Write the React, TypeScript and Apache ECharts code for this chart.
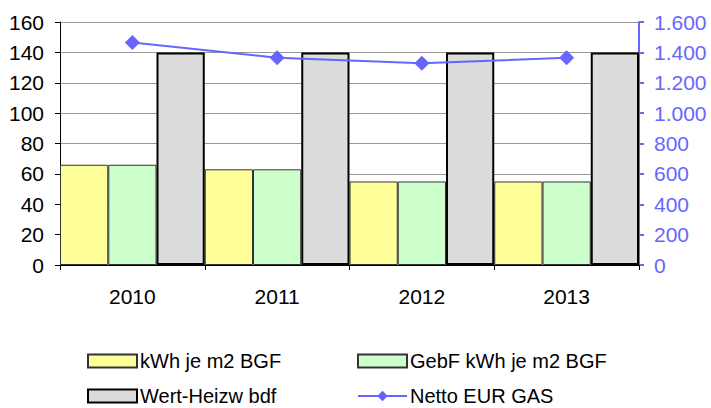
import React, { useEffect, useRef } from "react";
import * as echarts from "echarts";

const categories = ["2010", "2011", "2012", "2013"];
const kwhValues = [66, 63, 55, 55];
const gebfValues = [66, 63, 55, 55];
const wertValues = [140, 140, 140, 140];
const nettoValues = [1465, 1365, 1328, 1365];
const seriesNames = ["kWh je m2 BGF", "GebF kWh je m2 BGF", "Wert-Heizw bdf", "Netto EUR GAS"];

const FONT = "Liberation Sans, Arial, sans-serif";
const BLUE = "#6666ff";

export default function App() {
  const ref = useRef<HTMLDivElement>(null);
  useEffect(() => {
    if (!ref.current) return;
    const chart = echarts.init(ref.current, undefined, { renderer: "svg" });
    const legendBase = {
      itemWidth: 49,
      itemHeight: 13,
      itemGap: 6,
      textStyle: { fontFamily: FONT, fontSize: 20, color: "#000", lineHeight: 20, padding: [0, 0, 0, -2] },
      padding: 0,
      selectedMode: false,
    };
    chart.setOption({
      animation: false,
      backgroundColor: "#fff",
      textStyle: { fontFamily: FONT },
      grid: { left: 60, right: 72, top: 22, bottom: 143 },
      legend: [
        { ...legendBase, icon: "rect", data: [seriesNames[0]], left: 87, top: 351 },
        { ...legendBase, icon: "rect", data: [seriesNames[1]], left: 357, top: 351 },
        { ...legendBase, icon: "rect", data: [seriesNames[2]], left: 87, top: 386 },
        { ...legendBase, data: [seriesNames[3]], left: 357, top: 386 },
      ],
      xAxis: {
        type: "category",
        data: categories,
        axisLine: { lineStyle: { color: "#000", width: 1 } },
        axisTick: { show: true, length: 5, lineStyle: { color: "#000" } },
        axisLabel: { color: "#000", fontSize: 21, fontFamily: FONT, margin: 21 },
      },
      yAxis: [
        {
          type: "value",
          min: 0,
          max: 160,
          interval: 20,
          axisLine: { show: true, lineStyle: { color: "#000" } },
          axisTick: { show: true, length: 5, lineStyle: { color: "#000" } },
          axisLabel: { color: "#000", fontSize: 21, fontFamily: FONT, margin: 16 },
          splitLine: { show: true, lineStyle: { color: "#999", width: 1 } },
        },
        {
          type: "value",
          min: 0,
          max: 1600,
          interval: 200,
          position: "right",
          axisLine: { show: true, lineStyle: { color: BLUE, width: 2 } },
          axisTick: { show: true, length: 5, lineStyle: { color: BLUE, width: 2 } },
          axisLabel: {
            color: BLUE,
            fontSize: 21,
            fontFamily: FONT,
            margin: 15,
            formatter: (v: number) => String(v).replace(/\B(?=(\d{3})+(?!\d))/g, "."),
          },
          splitLine: { show: false },
        },
      ],
      series: [
        {
          name: seriesNames[0],
          type: "bar",
          data: kwhValues,
          barGap: "0%",
          barCategoryGap: "0%",
          itemStyle: { color: "#ffff99", borderColor: "#333", borderWidth: 1 },
        },
        {
          name: seriesNames[1],
          type: "bar",
          data: gebfValues,
          itemStyle: { color: "#ccffcc", borderColor: "#333", borderWidth: 1 },
        },
        {
          name: seriesNames[2],
          type: "bar",
          data: wertValues,
          itemStyle: { color: "#dcdcdc", borderColor: "#000", borderWidth: 2 },
        },
        {
          name: seriesNames[3],
          type: "line",
          yAxisIndex: 1,
          data: nettoValues,
          symbol: "diamond",
          symbolSize: 15,
          lineStyle: { color: BLUE, width: 2 },
          itemStyle: { color: BLUE },
        },
      ],
    });
    return () => chart.dispose();
  }, []);
  return (
    <div
      ref={ref}
      style={{ position: "fixed", left: 0, top: 0, width: 711, height: 408 }}
    />
  );
}
